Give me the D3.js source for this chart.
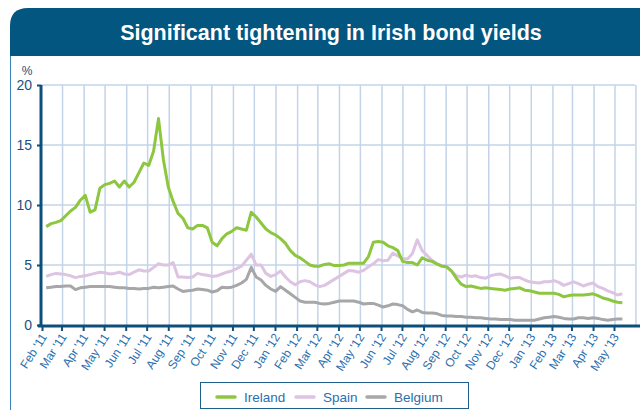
<!DOCTYPE html>
<html>
<head>
<meta charset="utf-8">
<script src="https://cdn.jsdelivr.net/npm/d3@7"></script>
<style>
  body { margin: 0; background: #fff; }
  svg { display: block; font-family: "Liberation Sans", Arial, sans-serif; }
</style>
</head>
<body>
<script>
// Weekly observations, first one on 7 Feb 2011
var startDate = new Date(2011, 1, 7);

var ireland = [8.2, 8.45, 8.55, 8.7, 9.1, 9.5, 9.8, 10.4, 10.8, 9.4,
  9.6, 11.4, 11.7, 11.8, 12.0, 11.5, 12.0, 11.5, 11.9, 12.7,
  13.5, 13.3, 14.5, 17.2, 13.8, 11.5, 10.3, 9.3, 8.9, 8.1,
  8.0, 8.3, 8.3, 8.1, 6.9, 6.6, 7.2, 7.6, 7.8, 8.1,
  8.0, 7.9, 9.4, 9.0, 8.5, 8.0, 7.7, 7.5, 7.2, 6.8,
  6.2, 5.8, 5.6, 5.3, 5.0, 4.9, 4.9, 5.05, 5.1, 4.95,
  4.95, 5.0, 5.15, 5.15, 5.15, 5.15, 5.7, 6.9, 6.95, 6.9,
  6.6, 6.45, 6.2, 5.3, 5.2, 5.2, 5.0, 5.6, 5.4, 5.3,
  5.1, 4.9, 4.85, 4.5, 3.9, 3.4, 3.2, 3.25, 3.15, 3.05,
  3.1, 3.05, 3.0, 2.95, 2.9, 3.0, 3.05, 3.1, 2.9, 2.85,
  2.75, 2.65, 2.65, 2.65, 2.65, 2.55, 2.35, 2.45, 2.5, 2.5,
  2.5, 2.55, 2.6, 2.45, 2.25, 2.15, 2.0, 1.9, 1.85];

var spain = [4.05, 4.2, 4.3, 4.25, 4.2, 4.1, 3.95, 4.05, 4.1, 4.2,
  4.3, 4.4, 4.35, 4.25, 4.3, 4.4, 4.25, 4.2, 4.4, 4.6,
  4.5, 4.5, 4.8, 5.1, 5.0, 5.0, 5.2, 4.0, 4.0, 3.95,
  4.0, 4.3, 4.2, 4.15, 4.05, 4.1, 4.25, 4.4, 4.5, 4.7,
  4.9, 5.4, 5.9, 5.0, 5.0, 4.3, 4.05, 4.2, 4.5, 4.0,
  3.6, 3.35, 3.6, 3.7, 3.6, 3.35, 3.2, 3.3, 3.55, 3.8,
  4.05, 4.3, 4.55, 4.5, 4.4, 4.55, 4.85, 5.1, 5.45, 5.35,
  5.4, 6.0, 5.75, 5.55, 5.5, 5.95, 7.1, 6.2, 5.8, 5.4,
  5.1, 4.95, 4.9, 4.5, 4.1, 4.0, 4.15, 4.05, 4.1, 3.95,
  3.9, 4.1, 4.2, 4.25, 4.1, 3.9, 3.95, 3.95, 3.75, 3.6,
  3.55, 3.5, 3.6, 3.6, 3.7, 3.55, 3.3, 3.45, 3.6, 3.45,
  3.25, 3.4, 3.5, 3.2, 3.05, 2.85, 2.7, 2.5, 2.6];

var belgium = [3.1, 3.15, 3.2, 3.2, 3.25, 3.25, 2.95, 3.1, 3.15, 3.2,
  3.2, 3.2, 3.2, 3.2, 3.15, 3.1, 3.1, 3.05, 3.05, 3.0,
  3.05, 3.05, 3.15, 3.1, 3.15, 3.2, 3.25, 3.0, 2.8, 2.85,
  2.9, 3.0, 2.95, 2.9, 2.75, 2.85, 3.15, 3.1, 3.15, 3.3,
  3.5, 3.8, 4.8, 4.0, 3.75, 3.3, 3.0, 2.8, 3.2, 2.9,
  2.6, 2.3, 2.0, 1.9, 1.9, 1.9, 1.8, 1.75, 1.8, 1.9,
  2.0, 2.0, 2.0, 2.0, 1.9, 1.75, 1.8, 1.8, 1.65, 1.5,
  1.6, 1.75, 1.7, 1.6, 1.3, 1.1, 1.25, 1.05, 1.0, 1.0,
  0.95, 0.8, 0.75, 0.75, 0.7, 0.7, 0.65, 0.65, 0.6, 0.6,
  0.55, 0.5, 0.5, 0.45, 0.45, 0.45, 0.4, 0.4, 0.4, 0.4,
  0.4, 0.5, 0.6, 0.65, 0.7, 0.65, 0.55, 0.5, 0.5, 0.6,
  0.6, 0.55, 0.6, 0.55, 0.45, 0.4, 0.45, 0.5, 0.5];

var seriesNames = ["Ireland", "Spain", "Belgium"];
var seriesColors = ["#8dc63f", "#dcc4e2", "#a7a7a9"];
var yTicks = [0, 5, 10, 15, 20];

var width = 640, height = 410;

var svg = d3.select("body").append("svg")
    .attr("width", width)
    .attr("height", height);

// title band with rounded top-left corner
svg.append("path")
    .attr("d", "M10,56 L10,26 Q10,8 28,8 L640,8 L640,56 Z")
    .attr("fill", "#03567f");

svg.append("text")
    .attr("x", 331)
    .attr("y", 40)
    .attr("text-anchor", "middle")
    .attr("fill", "#fff")
    .style("font-size", "21.5px")
    .style("font-weight", "bold")
    .text("Significant tightening in Irish bond yields");

// left border of the panel
svg.append("line")
    .attr("x1", 10.5).attr("x2", 10.5)
    .attr("y1", 56).attr("y2", height)
    .attr("stroke", "#3b83b6")
    .attr("stroke-width", 1);

var dates = ireland.map(function(d, i) { return d3.timeDay.offset(startDate, i * 7); });

var x = d3.scaleTime()
    .domain([new Date(2011, 1, 1), new Date(2013, 4, 1)])
    .range([42, 614]);

var y = d3.scaleLinear()
    .domain([0, 20])
    .range([325, 85]);

var months = d3.timeMonth.range(new Date(2011, 1, 1), new Date(2013, 4, 2));

// grid
var grid = svg.append("g").attr("class", "grid");
grid.selectAll("line.h")
    .data(yTicks.slice(1))
    .enter().append("line")
    .attr("x1", 41).attr("x2", 635)
    .attr("y1", function(d) { return y(d); })
    .attr("y2", function(d) { return y(d); })
    .attr("stroke", "#c3d4e8")
    .attr("stroke-width", 1.5);

grid.selectAll("line.v")
    .data(months.slice(1).concat([new Date(2013, 4, 31)]))
    .enter().append("line")
    .attr("x1", function(d) { return x(d) + 1; })
    .attr("x2", function(d) { return x(d) + 1; })
    .attr("y1", 85).attr("y2", 325)
    .attr("stroke", "#c3d4e8")
    .attr("stroke-width", 1.5);

// lines
var line = d3.line()
    .x(function(d, i) { return x(dates[i]); })
    .y(function(d) { return y(d); });

var allSeries = [ireland, spain, belgium];
// draw belgium, spain first so ireland sits on top
[2, 1, 0].forEach(function(s) {
    svg.append("path")
        .datum(allSeries[s])
        .attr("fill", "none")
        .attr("stroke", seriesColors[s])
        .attr("stroke-width", 3)
        .attr("stroke-linejoin", "round")
        .attr("d", line);
});

// y axis
var yAxis = svg.append("g")
    .attr("transform", "translate(41,0)")
    .call(d3.axisLeft(y).tickValues(yTicks).tickSize(4).tickPadding(5));
yAxis.select(".domain")
    .attr("stroke", "#0d4f7b")
    .attr("stroke-width", 3)
    .attr("d", "M0,85V327");
yAxis.selectAll(".tick line").attr("stroke", "#0d4f7b").attr("stroke-width", 2);
yAxis.selectAll(".tick text")
    .attr("fill", "#1d4f7e")
    .style("font-size", "14px")
    .style("font-family", "Liberation Sans, Arial, sans-serif");

svg.append("text")
    .attr("x", 27).attr("y", 75)
    .attr("text-anchor", "middle")
    .attr("fill", "#1d4f7e")
    .style("font-size", "12px")
    .text("%");

// x axis
var xAxis = svg.append("g")
    .attr("transform", "translate(0,326)")
    .call(d3.axisBottom(x).tickValues(months).tickSize(5)
        .tickFormat(d3.timeFormat("%b '%y")));
xAxis.select(".domain")
    .attr("stroke", "#0d4f7b")
    .attr("stroke-width", 3)
    .attr("d", "M38,0H640");
xAxis.selectAll(".tick line").attr("stroke", "#0d4f7b").attr("stroke-width", 2);
xAxis.selectAll(".tick text")
    .attr("fill", "#2a6fae")
    .style("font-size", "12px")
    .style("font-family", "Liberation Sans, Arial, sans-serif")
    .attr("text-anchor", "end")
    .attr("dy", 0)
    .attr("y", 0)
    .attr("transform", "translate(5,11) rotate(-57)");

// legend
var legend = svg.append("g");
legend.append("rect")
    .attr("x", 200.5).attr("y", 382.5)
    .attr("width", 268).attr("height", 26)
    .attr("fill", "#fff")
    .attr("stroke", "#1f5f8b");

var legendX = [217, 296, 367];
seriesNames.forEach(function(name, i) {
    var g = legend.append("g").attr("transform", "translate(" + legendX[i] + ",397)");
    g.append("line")
        .attr("x1", 0).attr("x2", 18)
        .attr("stroke", seriesColors[i])
        .attr("stroke-width", 3.5)
        .attr("stroke-linecap", "round");
    g.append("text")
        .attr("x", 27).attr("y", 5)
        .attr("fill", "#2a6fae")
        .style("font-size", "13.5px")
        .text(name);
});
</script>
</body>
</html>
